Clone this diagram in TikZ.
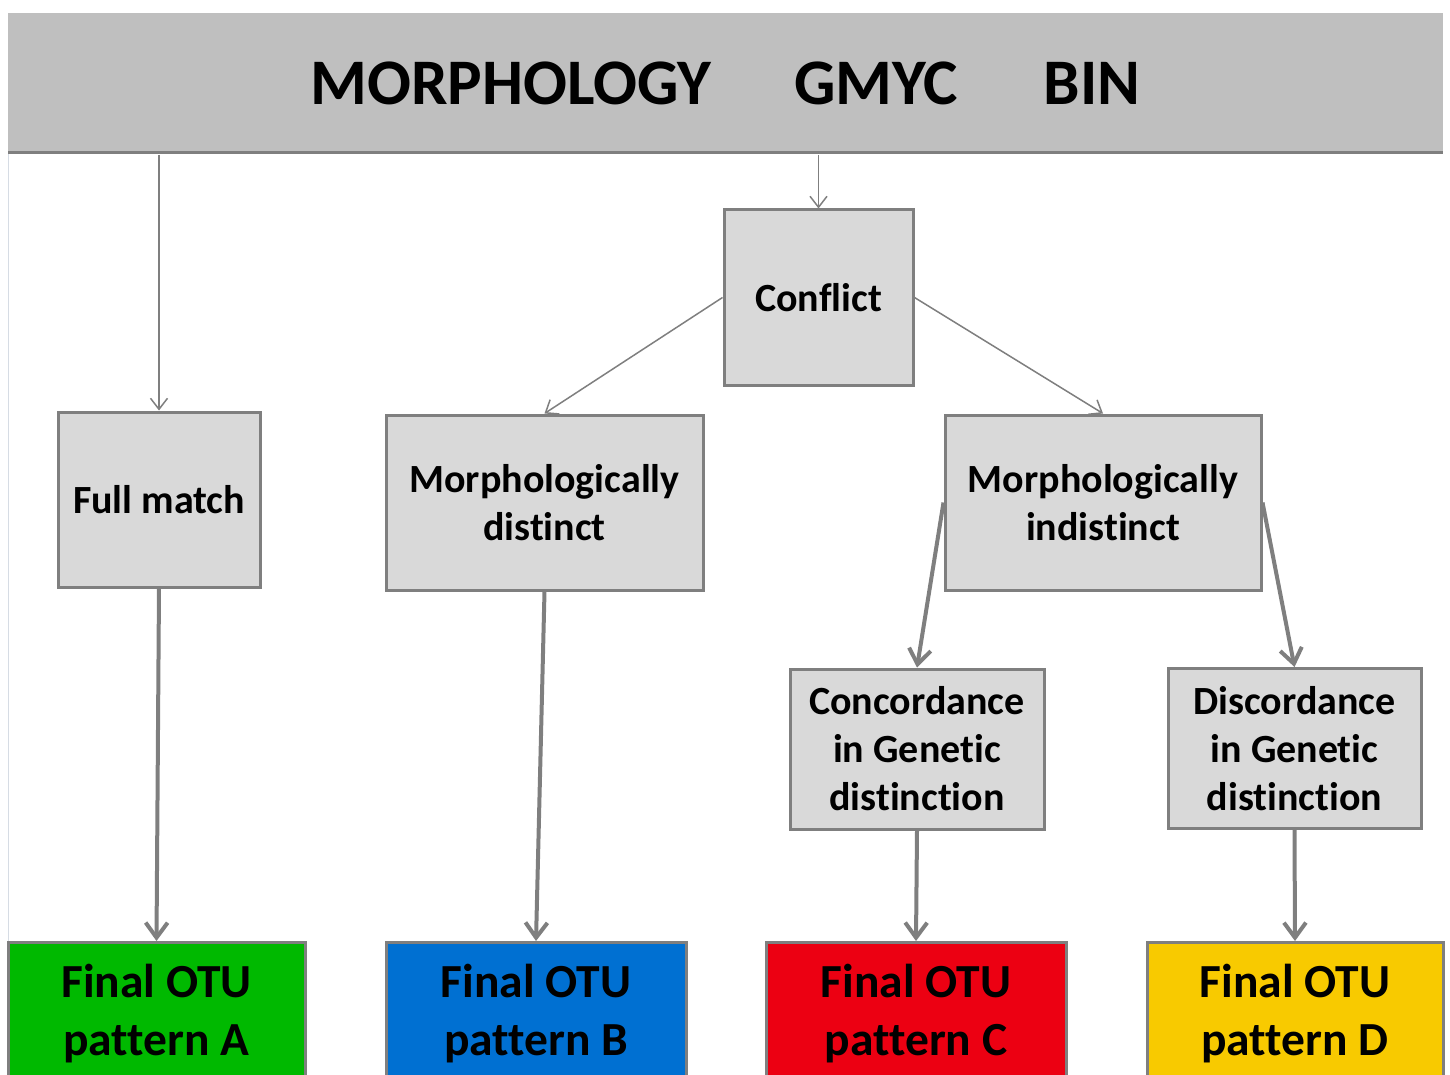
\documentclass[tikz,border=0pt]{standalone}
\usepackage{fontspec}
\setmainfont{Carlito}[Ligatures=NoCommon]
\usetikzlibrary{arrows.meta}
\definecolor{boxgray}{HTML}{D9D9D9}
\definecolor{bordergray}{HTML}{7F7F7F}
\definecolor{bargray}{HTML}{BFBFBF}
\definecolor{faint}{HTML}{D6DCE4}
\definecolor{otugreen}{HTML}{00B900}
\definecolor{otublue}{HTML}{0070D2}
\definecolor{otured}{HTML}{EC0012}
\definecolor{otuyellow}{HTML}{F8CA00}
\tikzset{
  gbox/.style={draw=bordergray, line width=3pt, fill=boxgray, inner sep=0pt, align=center,
    font=\bfseries\fontsize{40}{48}\selectfont},
  otubox/.style={draw=bordergray, line width=3pt, inner sep=0pt, align=center,
    font=\bfseries\fontsize{47.5}{58}\selectfont, minimum height=142pt},
  thinarrow/.style={draw=bordergray, line width=1.5pt, -{Straight Barb[length=11pt,width=17pt]}},
  thickarrow/.style={draw=bordergray, line width=4pt, -{Straight Barb[length=15pt,width=22pt]}},
  titletext/.style={font=\bfseries\fontsize{65}{78}\selectfont, inner sep=0pt}
}
\begin{document}
\begin{tikzpicture}[x=1pt,y=-1pt]
\useasboundingbox (0,0) rectangle (1450,1075);
\clip (0,0) rectangle (1450,1075);
% faint slide edge
\draw[faint, line width=1pt] (8,153) -- (8,941);
% top bar
\fill[bargray] (8,13) rectangle (1443,153);
\draw[bordergray, line width=3pt] (8,153) -- (1443,153);
\node[titletext] (morph) at (511,83) {MORPHOLOGY};
\node[titletext] (gmyc) at (876,83) {GMYC};
\node[titletext] (bin) at (1092,83) {BIN};
\coordinate (barA) at (159,155);
\coordinate (barC) at (818.5,155);
% boxes
\node[gbox, minimum width=189pt, minimum height=175pt] (conflict) at (818.5,297.5) {Conflict};
\node[gbox, minimum width=202pt, minimum height=175pt] (full) at (159,499.5) {Full match};
\node[gbox, minimum width=317pt, minimum height=175pt] (mdist) at (544.5,502.5) {Morphologically\\distinct};
\node[gbox, minimum width=316pt, minimum height=175pt] (mindist) at (1103,502.5) {Morphologically\\indistinct};
\node[gbox, minimum width=254pt, minimum height=160pt] (conc) at (917,749) {Concordance\\in Genetic\\distinction};
\node[gbox, minimum width=253pt, minimum height=160pt] (disc) at (1294.5,748.5) {Discordance\\in Genetic\\distinction};
% final boxes
\node[otubox, fill=otugreen, minimum width=297pt, anchor=north] (fa) at (156.5,941) {Final OTU\\pattern A};
\node[otubox, fill=otublue, minimum width=300pt, anchor=north] (fb) at (536,941) {Final OTU\\pattern B};
\node[otubox, fill=otured, minimum width=300pt, anchor=north] (fc) at (916,941) {Final OTU\\pattern C};
\node[otubox, fill=otuyellow, minimum width=296pt, anchor=north] (fd) at (1295,941) {Final OTU\\pattern D};
% connectors
\draw[thinarrow] (barA) -- (full.north);
\draw[thinarrow] (barC) -- (conflict.north);
\draw[thinarrow] (conflict.west) -- (mdist.north);
\draw[thinarrow] (conflict.east) -- (mindist.north);
\draw[thickarrow] (full.south) -- (fa.north);
\draw[thickarrow] (mdist.south) -- (fb.north);
\draw[thickarrow] (mindist.west) -- (conc.north);
\draw[thickarrow] (mindist.east) -- (disc.north);
\draw[thickarrow] (conc.south) -- (fc.north);
\draw[thickarrow] (disc.south) -- (fd.north);
\end{tikzpicture}
\end{document}
